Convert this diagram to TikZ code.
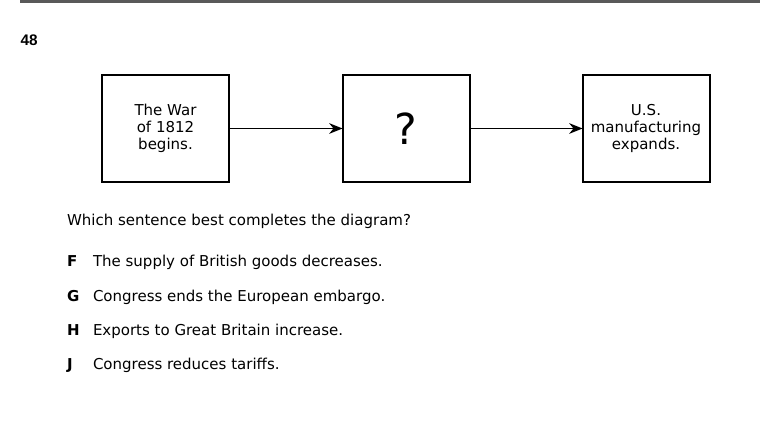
\documentclass[tikz,border=0pt]{standalone}
\usepackage{fontspec}
\setmainfont{DejaVu Sans}
\newfontfamily\numfont{Liberation Sans}
\usetikzlibrary{arrows.meta}
\begin{document}
\begin{tikzpicture}[x=0.75pt,y=-0.75pt,
  every node/.style={inner sep=0pt, outer sep=0pt},
  txt/.style={font=\fontsize{11.25pt}{12.75pt}\selectfont},
  box/.style={draw, line width=1.5pt, minimum width=95.25pt, minimum height=80.25pt,
    align=center, font=\fontsize{11.25pt}{12.75pt}\selectfont},
  conn/.style={line width=1.4pt, -{Stealth[length=10pt,width=8pt]}},
  opt/.style={txt, anchor=base west},
  letter/.style={txt, anchor=base west, font=\fontsize{11.25pt}{12.75pt}\selectfont\bfseries}]
\useasboundingbox (0,0) rectangle (760,445);
\coordinate (ruleA) at (20,1.5);
\coordinate (ruleB) at (760,1.5);
\draw[line width=1.6pt, black!65] (ruleA) -- (ruleB);
\node[anchor=base west, font=\numfont\fontsize{11.5pt}{13pt}\selectfont\bfseries] (num) at (20.5,46) {48};
\node[box] (b1) at (165.5,128.5) {The War\\of 1812\\begins.};
\node[box, font=\fontsize{32pt}{36pt}\selectfont] (b2) at (406,128.5) {?};
\node[box] (b3) at (646,128.5) {U.S.\\manufacturing\\expands.};
\draw[conn] (b1) -- (b2);
\draw[conn] (b2) -- (b3);
\node[opt] (q) at (67,226) {Which sentence best completes the diagram?};
\node[letter] (lF) at (67,267) {F};
\node[opt] (oF) at (93,267) {The supply of British goods decreases.};
\node[letter] (lG) at (67,301) {G};
\node[opt] (oG) at (93,301) {Congress ends the European embargo.};
\node[letter] (lH) at (67,335) {H};
\node[opt] (oH) at (93,335) {Exports to Great Britain increase.};
\node[letter] (lJ) at (67,369) {J};
\node[opt] (oJ) at (93,369) {Congress reduces tariffs.};
\end{tikzpicture}
\end{document}
